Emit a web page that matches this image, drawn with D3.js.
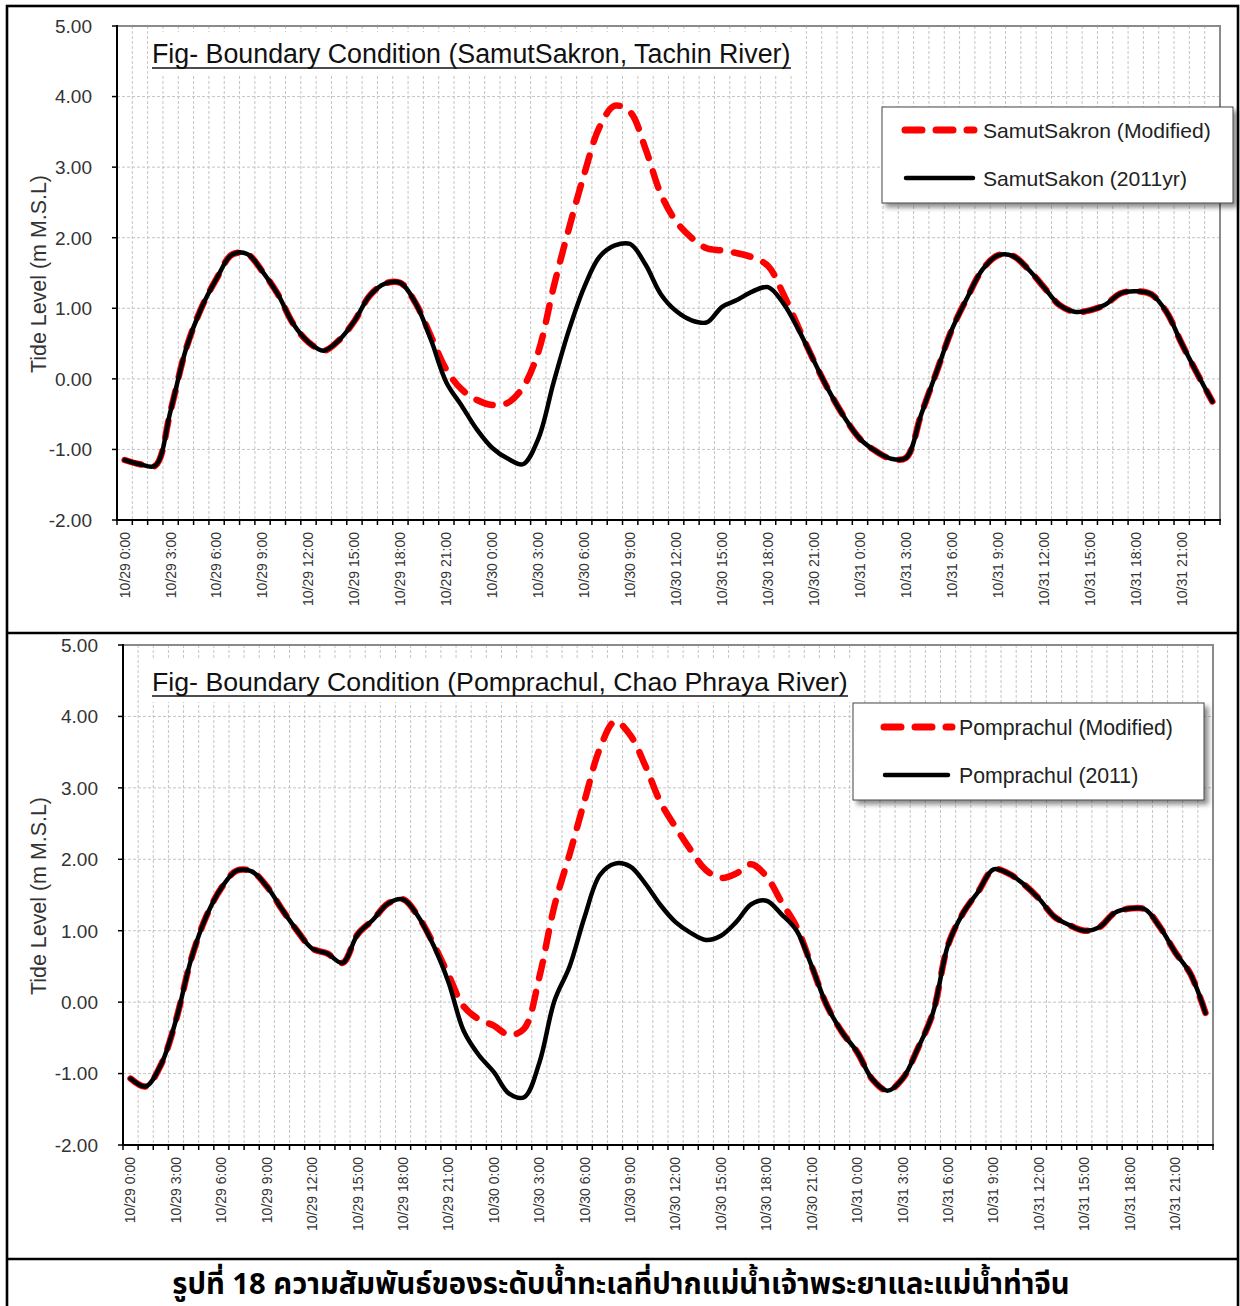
<!DOCTYPE html>
<html>
<head>
<meta charset="utf-8">
<script src="https://cdn.jsdelivr.net/npm/d3@7"></script>
<style>
  html, body { margin: 0; padding: 0; background: #fff; }
  svg { display: block; }
</style>
</head>
<body>
<svg id="chart" width="1240" height="1306"></svg>
<script>
// ---------------- DATA ----------------
const hourCount = 72; // hourly categories 10/29 0:00 .. 10/31 23:00
const tickLabels = [
  "10/29 0:00","10/29 3:00","10/29 6:00","10/29 9:00","10/29 12:00","10/29 15:00","10/29 18:00","10/29 21:00",
  "10/30 0:00","10/30 3:00","10/30 6:00","10/30 9:00","10/30 12:00","10/30 15:00","10/30 18:00","10/30 21:00",
  "10/31 0:00","10/31 3:00","10/31 6:00","10/31 9:00","10/31 12:00","10/31 15:00","10/31 18:00","10/31 21:00"
];
const yTicks = [-2, -1, 0, 1, 2, 3, 4, 5];

const samutBase = [
  -1.15,-1.21,-1.23,-0.45, 0.42, 1.00, 1.42, 1.76, 1.77, 1.52, 1.20, 0.78,
   0.52, 0.40, 0.55, 0.82, 1.18, 1.35, 1.36, 1.07, 0.55,-0.05,-0.38,-0.72,
  -0.98,-1.13,-1.21,-0.85,-0.05, 0.69, 1.30, 1.73, 1.89, 1.91, 1.62, 1.20,
   0.96, 0.83, 0.80, 1.02, 1.12, 1.24, 1.30, 1.07, 0.69, 0.25,-0.18,-0.55,
  -0.85,-1.02,-1.13,-1.12,-0.50, 0.10, 0.70, 1.15, 1.55, 1.75, 1.74, 1.55,
   1.30, 1.05, 0.95, 0.97, 1.05, 1.21, 1.24, 1.20, 0.95, 0.50, 0.08,-0.32
];
const samutModified = [
  -1.15,-1.21,-1.23,-0.45, 0.42, 1.00, 1.42, 1.76, 1.77, 1.52, 1.20, 0.78,
   0.52, 0.40, 0.55, 0.82, 1.18, 1.35, 1.36, 1.07, 0.60, 0.13,-0.15,-0.30,
  -0.37,-0.34,-0.12, 0.38, 1.30, 2.13, 2.90, 3.57, 3.87, 3.78, 3.26, 2.62,
   2.23, 2.00, 1.85, 1.82, 1.78, 1.72, 1.60, 1.20, 0.72, 0.25,-0.18,-0.55,
  -0.85,-1.02,-1.13,-1.12,-0.50, 0.10, 0.70, 1.15, 1.55, 1.75, 1.74, 1.55,
   1.30, 1.05, 0.95, 0.97, 1.05, 1.21, 1.24, 1.20, 0.95, 0.50, 0.08,-0.32
];
const pomBase = [
  -1.07,-1.18,-0.88,-0.25, 0.60, 1.20, 1.60, 1.84, 1.83, 1.62, 1.30, 1.00,
   0.75, 0.68, 0.55, 0.95, 1.15, 1.38, 1.44, 1.20, 0.80, 0.28,-0.40,-0.74,
  -0.98,-1.28,-1.33,-0.85, 0.02, 0.50, 1.20, 1.78, 1.94, 1.90, 1.66, 1.36,
   1.12, 0.97, 0.87, 0.93, 1.12, 1.37, 1.42, 1.23, 1.00, 0.50,-0.05,-0.42,
  -0.70,-1.08,-1.24,-1.07,-0.65,-0.15, 0.80, 1.25, 1.55, 1.86, 1.80, 1.65,
   1.45, 1.20, 1.08, 1.00, 1.05, 1.25, 1.31, 1.30, 1.05, 0.70, 0.40,-0.15
];
const pomModified = [
  -1.07,-1.18,-0.88,-0.25, 0.60, 1.20, 1.60, 1.84, 1.83, 1.62, 1.30, 1.00,
   0.75, 0.68, 0.55, 0.95, 1.15, 1.38, 1.44, 1.20, 0.82, 0.38,-0.06,-0.24,
  -0.33,-0.46,-0.37, 0.35, 1.35, 2.07, 2.83, 3.55, 3.93, 3.74, 3.31, 2.80,
   2.45, 2.13, 1.85, 1.74, 1.80, 1.93, 1.76, 1.40, 1.05, 0.50,-0.05,-0.42,
  -0.70,-1.08,-1.24,-1.07,-0.65,-0.15, 0.80, 1.25, 1.55, 1.86, 1.80, 1.65,
   1.45, 1.20, 1.08, 1.00, 1.05, 1.25, 1.31, 1.30, 1.05, 0.70, 0.40,-0.15
];

const titles = [
  "Fig- Boundary Condition (SamutSakron, Tachin River)",
  "Fig- Boundary Condition (Pomprachul, Chao Phraya River)"
];
const legendModified = ["SamutSakron (Modified)", "Pomprachul (Modified)"];
const legendBase = ["SamutSakon (2011yr)", "Pomprachul (2011)"];
const yAxisTitle = "Tide Level (m M.S.L)";
const caption = "รูปที่ 18 ความสัมพันธ์ของระดับน้ำทะเลที่ปากแม่น้ำเจ้าพระยาและแม่น้ำท่าจีน";

// ---------------- LAYOUT ----------------
const FONT = "Arial, 'Liberation Sans', sans-serif";
const panels = [
  { plot: {l:117, r:1220, t:26, b:520}, base: samutBase, mod: samutModified,
    title: titles[0], titleW: 639, titleBase: 63,
    legend: {x:882, y:107, w:351, h:96, rY:130, rX1:902, rX2:977, bY:178, bX1:904, bX2:975, tX:983, tW:228},
    legM: legendModified[0], legB: legendBase[0], yTitleY: 274 },
  { plot: {l:123, r:1213, t:645, b:1145}, base: pomBase, mod: pomModified,
    title: titles[1], titleW: 696, titleBase: 691,
    legend: {x:853, y:703, w:351, h:97, rY:727, rX1:881, rX2:955, bY:775, bX1:883, bX2:950, tX:959, tW:214},
    legM: legendModified[1], legB: legendBase[1], yTitleY: 896 }
];

const svg = d3.select("#chart");
const defs = svg.append("defs");
const f = defs.append("filter").attr("id","shadow").attr("x","-10%").attr("y","-10%").attr("width","130%").attr("height","140%");
f.append("feDropShadow").attr("dx",4).attr("dy",4).attr("stdDeviation",2.5).attr("flood-color","#000").attr("flood-opacity",0.45);

function fit(sel, target) {
  const w = sel.node().getComputedTextLength();
  const fs = parseFloat(sel.attr("font-size"));
  const nfs = fs * target / w;
  sel.attr("font-size", nfs);
  return nfs;
}

const hours = d3.range(hourCount);

panels.forEach(p => {
  const P = p.plot;
  const g = svg.append("g");
  const x = d3.scalePoint().domain(hours).range([P.l, P.r]).padding(0.5);
  const step = x.step();
  const y = d3.scaleLinear().domain([-2, 5]).range([P.b, P.t]);
  const bound = k => P.l + k * step;

  // gridlines
  const grid = g.append("g").attr("stroke", "#c4c4c4").attr("stroke-width", 1).attr("stroke-dasharray", "3,2");
  d3.range(1, hourCount).forEach(k => {
    grid.append("line").attr("x1", bound(k)).attr("x2", bound(k)).attr("y1", P.t).attr("y2", P.b);
  });
  yTicks.filter(v => v > -2 && v < 5).forEach(v => {
    grid.append("line").attr("x1", P.l).attr("x2", P.r).attr("y1", y(v)).attr("y2", y(v));
  });

  // plot frame (top/right gray)
  g.append("path").attr("d", `M${P.l},${P.t}H${P.r}V${P.b}`).attr("fill","none").attr("stroke","#8a8a8a").attr("stroke-width",2);

  // title with white background + underline
  const tt = g.append("text").attr("x", 152).attr("y", p.titleBase).attr("font-family", FONT)
    .attr("font-size", 25).attr("fill", "#111").text(p.title);
  fit(tt, p.titleW);
  g.insert("rect", "text").attr("x", 148).attr("y", p.titleBase - 31).attr("width", p.titleW + 8).attr("height", 42).attr("fill", "#fff");
  g.append("line").attr("x1", 152).attr("x2", 152 + p.titleW).attr("y1", p.titleBase + 5).attr("y2", p.titleBase + 5)
    .attr("stroke", "#111").attr("stroke-width", 1.6);

  // series
  const line = d3.line().x((d, i) => x(i)).y(d => y(d)).curve(d3.curveCatmullRom.alpha(0.5));
  g.append("path").datum(p.mod).attr("d", line).attr("fill","none").attr("stroke","#ff0000")
    .attr("stroke-width", 6.5).attr("stroke-dasharray","17,14").attr("stroke-linecap","round");
  g.append("path").datum(p.base).attr("d", line).attr("fill","none").attr("stroke","#000")
    .attr("stroke-width", 4.5).attr("stroke-linecap","round").attr("stroke-linejoin","round");

  // axes
  g.append("line").attr("x1", P.l).attr("x2", P.l).attr("y1", P.t - 1).attr("y2", P.b).attr("stroke","#000").attr("stroke-width",2);
  g.append("line").attr("x1", P.l - 1).attr("x2", P.r + 1).attr("y1", P.b).attr("y2", P.b).attr("stroke","#000").attr("stroke-width",2);
  d3.range(0, hourCount + 1).forEach(k => {
    g.append("line").attr("x1", bound(k)).attr("x2", bound(k)).attr("y1", P.b).attr("y2", P.b + 5).attr("stroke","#000").attr("stroke-width",1.5);
  });
  yTicks.forEach(v => {
    g.append("line").attr("x1", P.l - 5).attr("x2", P.l).attr("y1", y(v)).attr("y2", y(v)).attr("stroke","#000").attr("stroke-width",1.5);
    g.append("text").attr("x", P.l - 25).attr("y", y(v)).attr("dy", "0.36em").attr("text-anchor","end")
      .attr("font-family", FONT).attr("font-size", 19).attr("fill", "#333").text(v.toFixed(2));
  });
  tickLabels.forEach((lab, i) => {
    const h = i * 3;
    g.append("text").attr("transform", `translate(${x(h)},${P.b + 12}) rotate(-90)`)
      .attr("text-anchor", "end").attr("dy", "0.35em")
      .attr("font-family", FONT).attr("font-size", 14).attr("fill", "#333").text(lab);
  });

  // y axis title
  const yt = g.append("text").attr("transform", `translate(38,${p.yTitleY}) rotate(-90)`)
    .attr("text-anchor","middle").attr("dy","0.35em").attr("font-family", FONT).attr("font-size", 18)
    .attr("fill","#333").text(yAxisTitle);
  fit(yt, 198);

  // legend
  const L = p.legend;
  g.append("rect").attr("x", L.x).attr("y", L.y).attr("width", L.w).attr("height", L.h)
    .attr("fill","#fff").attr("stroke","#444").attr("stroke-width",1).attr("filter","url(#shadow)");
  g.append("line").attr("x1", L.rX1 + 3).attr("x2", L.rX2 - 3).attr("y1", L.rY).attr("y2", L.rY)
    .attr("stroke","#ff0000").attr("stroke-width",7).attr("stroke-dasharray","17,14").attr("stroke-linecap","round");
  g.append("line").attr("x1", L.bX1 + 2).attr("x2", L.bX2 - 2).attr("y1", L.bY).attr("y2", L.bY)
    .attr("stroke","#000").attr("stroke-width",4.5).attr("stroke-linecap","round");
  const lt1 = g.append("text").attr("x", L.tX).attr("y", L.rY).attr("dy","0.36em")
    .attr("font-family", FONT).attr("font-size", 20).attr("fill","#222").text(p.legM);
  const lfs = fit(lt1, L.tW);
  g.append("text").attr("x", L.tX).attr("y", L.bY).attr("dy","0.36em")
    .attr("font-family", FONT).attr("font-size", lfs).attr("fill","#222").text(p.legB);
});

// outer table borders
const border = svg.append("g").attr("stroke","#000").attr("stroke-width",2.6).attr("fill","none");
border.append("rect").attr("x", 7).attr("y", 6).attr("width", 1231).attr("height", 1320);
border.append("line").attr("x1", 7).attr("x2", 1238).attr("y1", 633).attr("y2", 633);
border.append("line").attr("x1", 7).attr("x2", 1238).attr("y1", 1259).attr("y2", 1259);

// caption
const cap = svg.append("text").attr("x", 621).attr("y", 1294).attr("text-anchor","middle")
  .attr("font-family", "'Noto Sans Thai', 'Noto Sans Thai UI', 'Noto Sans', 'DejaVu Sans', sans-serif")
  .attr("font-weight","bold").attr("font-size", 28).attr("fill","#000").text(caption);
fit(cap, 898);
</script>
</body>
</html>
